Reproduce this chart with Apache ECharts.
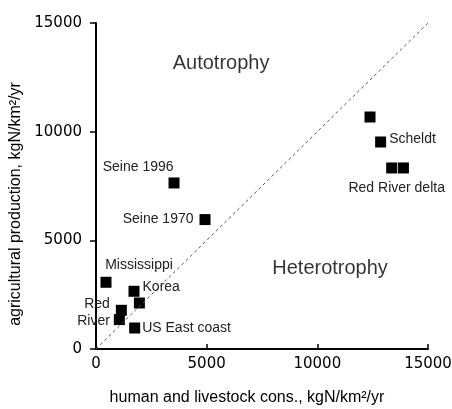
<!DOCTYPE html>
<html>
<head>
<meta charset="utf-8">
<script src="https://cdn.jsdelivr.net/npm/echarts@6/dist/echarts.min.js"></script>
<style>
  html, body { margin: 0; padding: 0; background: #fff; }
  #chart { width: 452px; height: 409px; }
</style>
</head>
<body>
<div id="chart"></div>
<script>
// river basins: human+livestock consumption vs agricultural production (kgN/km2/yr)
var names = ['', 'Scheldt', 'Red River delta', '', 'Seine 1996', 'Seine 1970', 'Mississippi', 'Korea', '', 'Red\nRiver', '', 'US East coast']
var consumption = [12380, 12860, 13360, 13890, 3525, 4925, 452, 1717, 1960, 1145, 1055, 1747]
var production = [10675, 9525, 8330, 8330, 7640, 5955, 3070, 2655, 2117, 1780, 1353, 966]
var xTicks = [0, 5000, 10000, 15000]
var yTicks = [0, 5000, 10000, 15000]
var zones = ['Autotrophy', 'Heterotrophy']
var zoneX = [5650, 10575]
var zoneY = [13150, 3715]

// 标签位置，每个点单独设置
var labelPos = {
  'Scheldt': { position: 'right', distance: 3, offset: [0, -3] },
  'Red River delta': { position: 'bottom', distance: 5, offset: [5, 3] },
  'Seine 1996': { position: 'left', distance: 5, offset: [10, -16] },
  'Seine 1970': { position: 'left', distance: 6 },
  'Mississippi': { position: 'top', distance: 5, offset: [33, 0] },
  'Korea': { position: 'right', distance: 3, offset: [0, -4] },
  'Red\nRiver': { position: 'left', distance: 6, offset: [0, 2], lineHeight: 17 },
  'US East coast': { position: 'right', distance: 2 }
}

var font = 'Liberation Sans, Arial, sans-serif'
var tickFont = 'DejaVu Sans, sans-serif'
var points = consumption.map(function (x, i) {
  var item = { value: [x, production[i]] }
  if (names[i]) {
    item.label = Object.assign({ show: true, formatter: names[i] }, labelPos[names[i]])
  }
  return item
})
// 刻度不要千分位
var plain = function (v) { return String(v) }

var chart = echarts.init(document.getElementById('chart'))
chart.setOption({
  animation: false,
  grid: { left: 96, right: 24, top: 23, bottom: 60, outerBoundsMode: 'none' },
  xAxis: {
    type: 'value',
    min: xTicks[0],
    max: xTicks[xTicks.length - 1],
    interval: 5000,
    splitLine: { show: false },
    axisLine: { lineStyle: { color: '#000', width: 2 } },
    axisTick: { inside: true, length: 5, lineStyle: { color: '#000', width: 1.5 } },
    axisLabel: { color: '#000', fontFamily: tickFont, fontSize: 15, margin: 8, formatter: plain },
    name: 'human and livestock cons., kgN/km²/yr',
    nameLocation: 'middle',
    nameGap: 41,
    nameTextStyle: { color: '#000', fontFamily: font, fontSize: 16, padding: [0, 30, 0, 0] }
  },
  yAxis: {
    type: 'value',
    min: yTicks[0],
    max: yTicks[yTicks.length - 1],
    interval: 5000,
    splitLine: { show: false },
    axisLine: { lineStyle: { color: '#000', width: 2 } },
    axisTick: { length: 6, lineStyle: { color: '#000', width: 1.5 } },
    axisLabel: { color: '#000', fontFamily: tickFont, fontSize: 15, margin: 14, formatter: plain },
    name: 'agricultural production, kgN/km²/yr',
    nameLocation: 'middle',
    nameGap: 61,
    nameTextStyle: { color: '#000', fontFamily: font, fontSize: 16, padding: [0, 36, 0, 0] }
  },
  series: [
    {
      type: 'line',
      data: [[0, 0], [15000, 15000]],
      symbol: 'none',
      silent: true,
      lineStyle: { color: '#555', width: 1, type: [3, 3] }
    },
    {
      type: 'scatter',
      symbol: 'rect',
      symbolSize: 11,
      itemStyle: { color: '#000', opacity: 1 },
      label: { color: '#222', fontFamily: font, fontSize: 14 },
      data: points
    },
    {
      type: 'scatter',
      symbolSize: 0,
      silent: true,
      label: {
        show: true,
        position: 'inside',
        color: '#000',
        fontFamily: font,
        fontSize: 20,
        formatter: function (p) { return zones[p.dataIndex] }
      },
      data: zoneX.map(function (x, i) { return [x, zoneY[i]] })
    }
  ]
})
</script>
</body>
</html>
